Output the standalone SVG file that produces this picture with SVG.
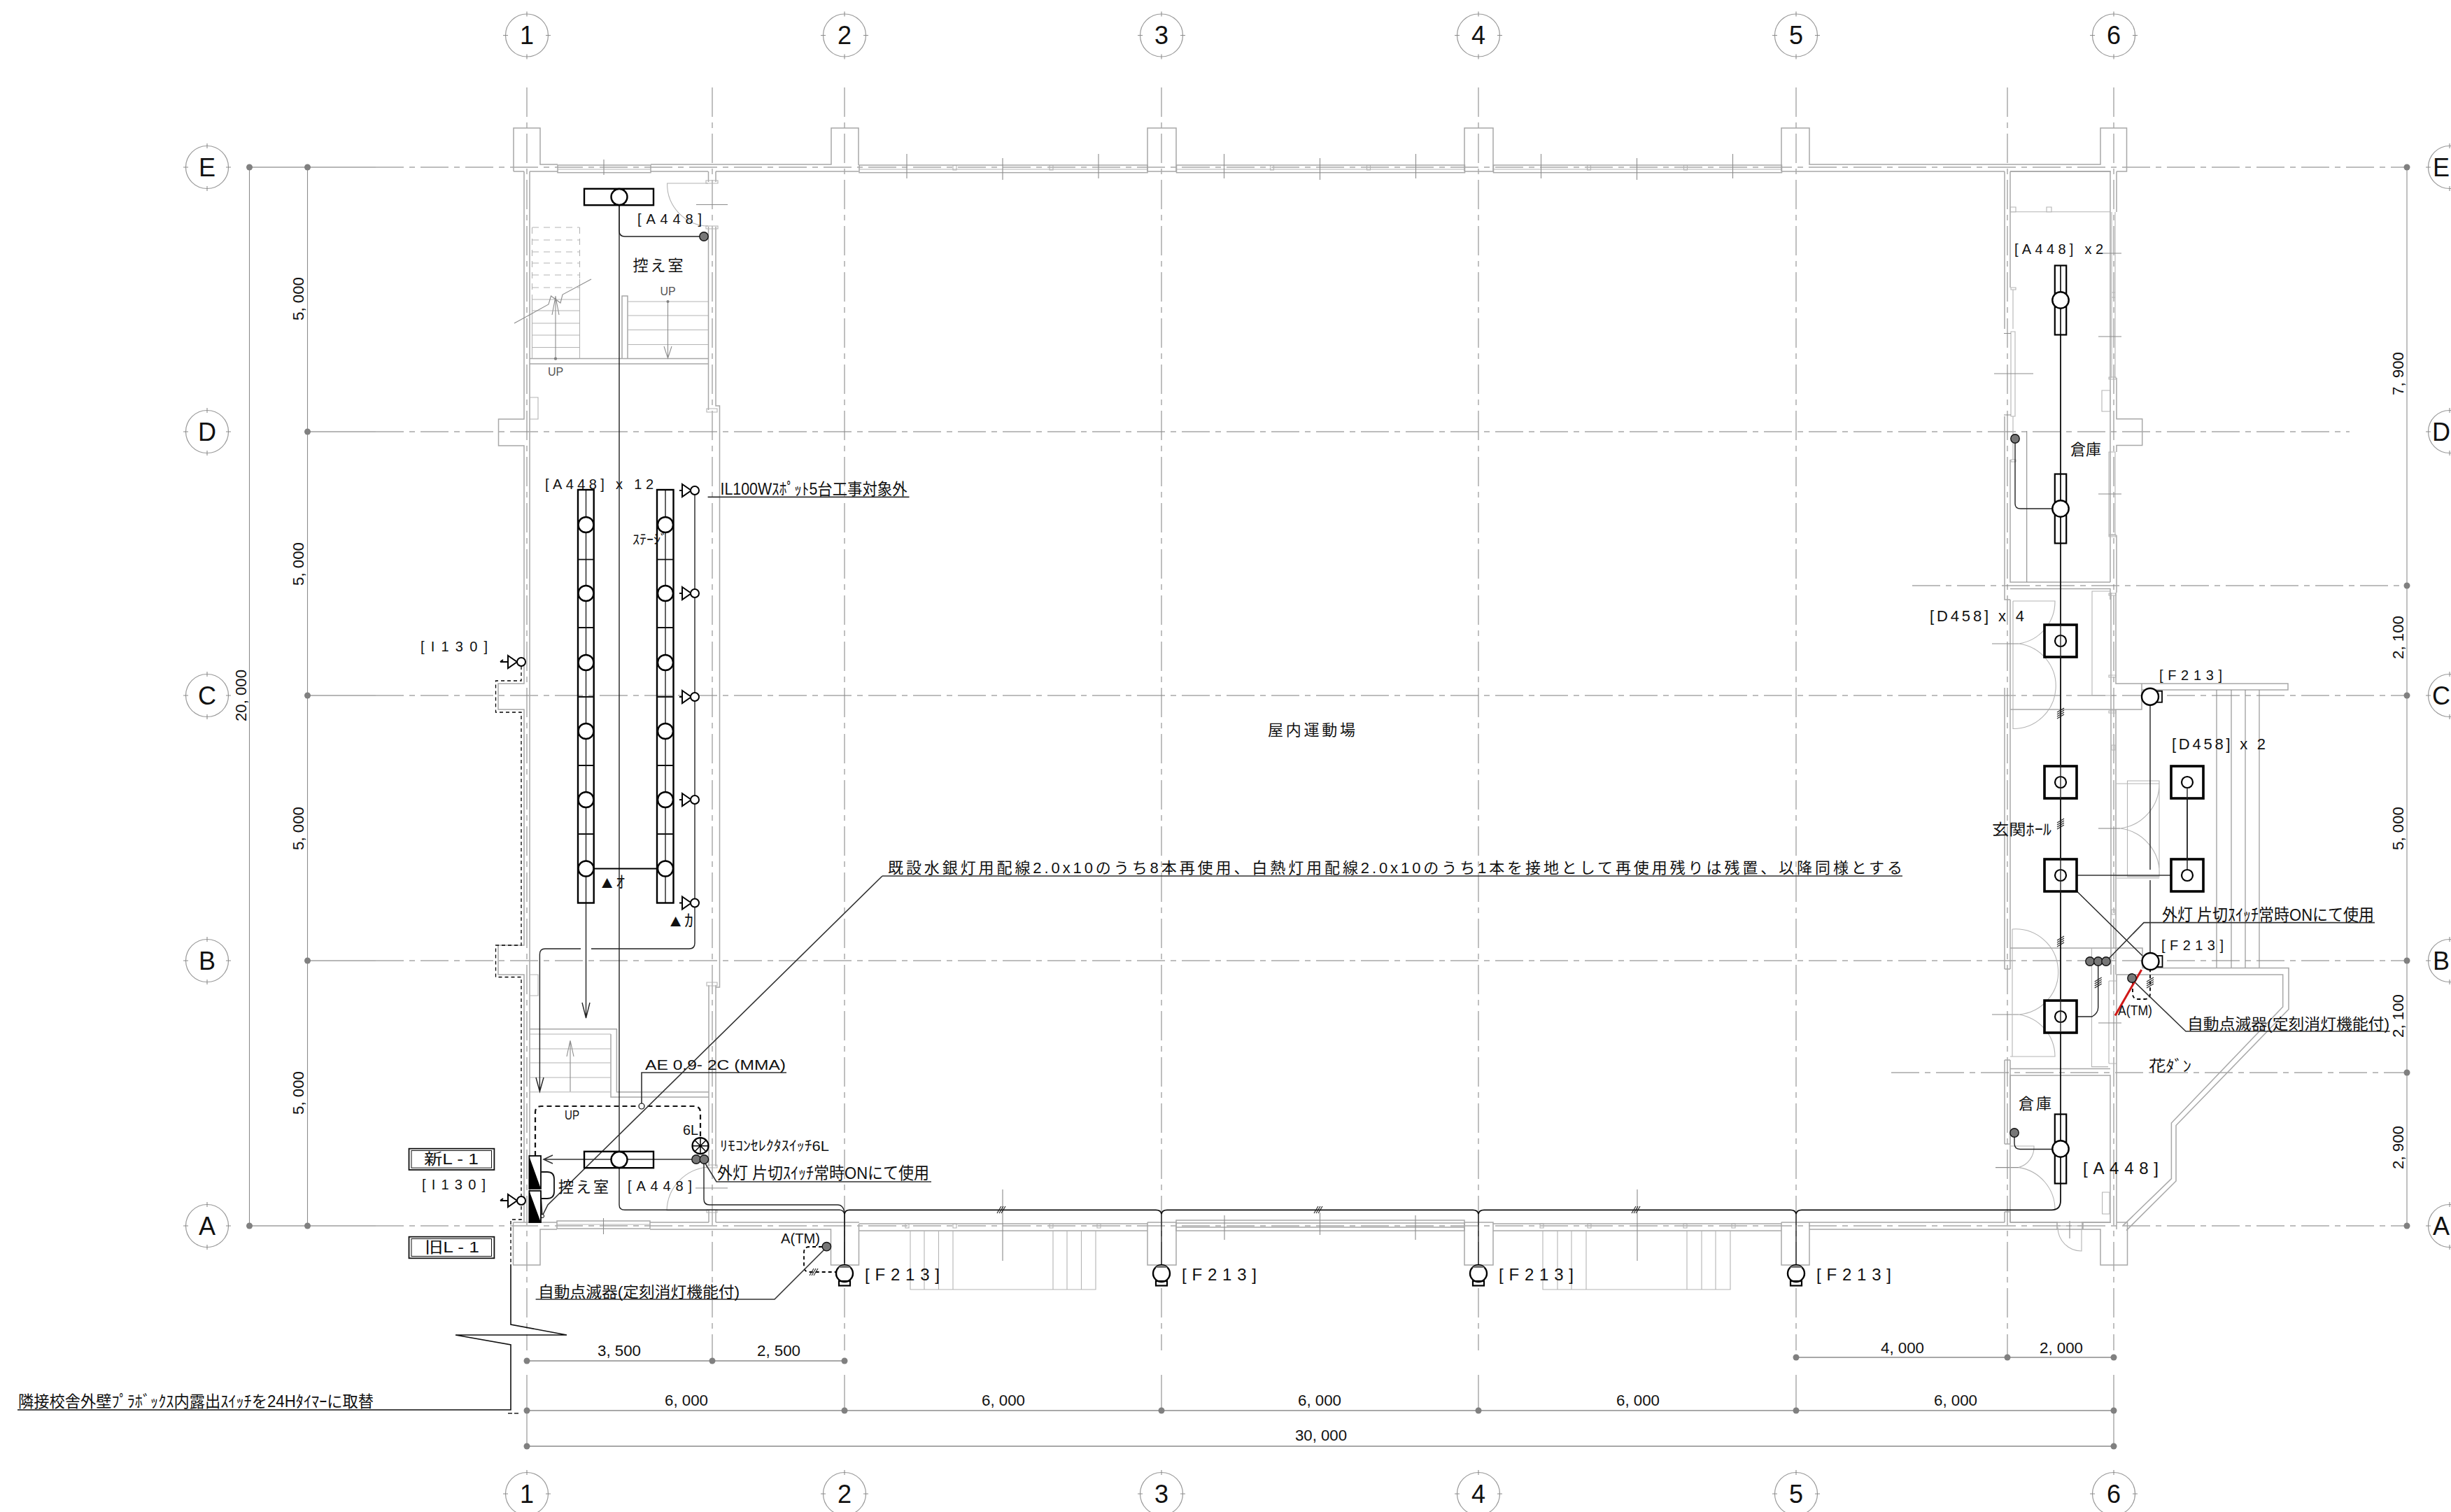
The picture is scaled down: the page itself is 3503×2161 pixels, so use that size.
<svg xmlns="http://www.w3.org/2000/svg" width="3503" height="2161" viewBox="0 0 3503 2161">
<style>
text{font-family:"Liberation Sans","Noto Sans CJK JP",sans-serif;fill:#111}
.w{fill:none;stroke:#a8a8a8;stroke-width:1.5}
.wt{fill:none;stroke:#b4b4b4;stroke-width:1.1}
.wd{fill:none;stroke:#b4b4b4;stroke-width:1.1;stroke-dasharray:9 7}
.g{fill:none;stroke:#a8a8a8;stroke-width:1.5;stroke-dasharray:40 8 8 8}
.gv{fill:none;stroke:#8c8c8c;stroke-width:1.1;stroke-dasharray:42 8 8 8}
.s{fill:none;stroke:#8c8c8c;stroke-width:1.1}
.d{fill:none;stroke:#a8a8a8;stroke-width:2.2}
.dl{fill:none;stroke:#a0a0a0;stroke-width:1.7}
.dot{fill:#808080}
.k{fill:none;stroke:#222;stroke-width:1.4}
.km{fill:none;stroke:#111;stroke-width:1.8}
.k2{fill:none;stroke:#000;stroke-width:2}
.lead{fill:none;stroke:#333;stroke-width:1.6}
.dash{fill:none;stroke:#000;stroke-width:1.3;stroke-dasharray:5 4}
.dashm{fill:none;stroke:#000;stroke-width:1.8;stroke-dasharray:5 4}
.dash2{fill:none;stroke:#111;stroke-width:2.2;stroke-dasharray:7 5}
.bub{fill:#fff;stroke:#999;stroke-width:1.2}
.num{font-size:36px;text-anchor:middle}
.dim{font-size:22px;text-anchor:middle}
.lbl{font-size:20px}
.jp{font-size:22px}
.up{font-size:16px;text-anchor:middle;fill:#555}
</style>
<defs>
<g id="bubble"><circle class="bub" r="30.5"/><path class="s" d="M-34,0H-27M27,0H34M0,-34V-27M0,27V34"/></g>
<g id="winT"><rect class="w" x="0" y="236" width="412" height="10.7"/><path class="wt" d="M0,242H412"/><path class="wt" d="M134,236.5h5v6.5h-5zM272,236.5h5v6.5h-5z"/><path class="s" d="M68,220V255M205,226V257M342,220V255"/></g>
<g id="f213"><path class="k" d="M0,-85V-12"/><ellipse cx="0" cy="0" rx="12" ry="12" fill="#fff" stroke="#000" stroke-width="2.4"/><path d="M-9,-8A12,12 0 0 1 9,-8Z" fill="#777"/><rect x="-8" y="11" width="16" height="6.5" fill="none" stroke="#000" stroke-width="2.2"/></g>
<g id="f213r"><rect x="9" y="-8" width="8" height="16" fill="#fff" stroke="#000" stroke-width="1.8"/><circle r="12" fill="#fff" stroke="#000" stroke-width="2.4"/></g>
<g id="spot"><path class="k2" d="M-22,0H-2M-6,0L-3,4"/><path d="M-18,-9L-5,0L-18,9Z" fill="#fff" stroke="#000" stroke-width="2"/><circle r="6" fill="#fff" stroke="#000" stroke-width="2"/></g>
<g id="spotL"><path d="M-30,0H-19M-30,0L-26,-3" fill="none" stroke="#000" stroke-width="2"/><path d="M-19,-9L-6,0L-19,9Z" fill="#fff" stroke="#000" stroke-width="2"/><circle r="6" fill="#fff" stroke="#000" stroke-width="2"/></g>
<circle id="sw" r="6.2" fill="#777" stroke="#111" stroke-width="1.4"/>
<g id="hatch"><path fill="none" stroke="#222" stroke-width="1.1" d="M-8,5L-2,-5M-5,5L1,-5M-2,5L4,-5"/></g>
<g id="hatchV"><path fill="none" stroke="#222" stroke-width="1.1" d="M-5,-2L5,-8M-5,1L5,-5M-5,4L5,-2M-5,7L5,1"/></g>
<g id="sq"><rect x="-23" y="-23" width="46" height="46" fill="#fff" stroke="#000" stroke-width="3.6"/><circle r="8" fill="#fff" stroke="#000" stroke-width="2.2"/></g>
<g id="hz"><rect x="-50" y="-11.7" width="99" height="23.4" fill="none" stroke="#000" stroke-width="2.4"/></g>
<g id="vf"><rect x="-8.2" y="-49.5" width="16.4" height="99" fill="none" stroke="#000" stroke-width="2.2"/><circle r="11.7" fill="#fff" stroke="#000" stroke-width="2.4"/></g>
</defs>
<rect width="3503" height="2161" fill="#fff"/>

<g id="grid-lines">
<path class="s" d="M356.5,239V1752M439.5,239V1752"/>
<path class="dl" d="M356.5,239H537M356.5,1752H537M439.5,617H537M439.5,994H537M439.5,1373H537"/>
<path class="g" d="M537,239H3440M537,617H3358M537,994H3440M537,1373H3440M537,1752H3440M2733,837H3440M2703,1533H3440"/>
<path class="gv" d="M753,125V1930M1207,125V1930M1660,125V1930M2113,125V1930M2567,125V1930M3021,125V1930M1018,125V1945M2869,125V1940"/>
<path class="s" d="M753,1965V2067M1207,1965V2016M1660,1965V2016M2113,1965V2016M2567,1965V2016M3021,1965V2067"/>
<path class="s" d="M3440,239V1752"/>
</g>

<g id="dimensions">
<path class="d" d="M753,1945H1207M753,2016H3021M753,2067H3021M2567,1940H3021"/>
<g class="dot">
<circle cx="356.5" cy="239" r="4.5"/><circle cx="356.5" cy="1752" r="4.5"/>
<circle cx="439.5" cy="239" r="4.5"/><circle cx="439.5" cy="617" r="4.5"/><circle cx="439.5" cy="994" r="4.5"/><circle cx="439.5" cy="1373" r="4.5"/><circle cx="439.5" cy="1752" r="4.5"/>
<circle cx="3440" cy="239" r="4.5"/><circle cx="3440" cy="837" r="4.5"/><circle cx="3440" cy="994" r="4.5"/><circle cx="3440" cy="1373" r="4.5"/><circle cx="3440" cy="1533" r="4.5"/><circle cx="3440" cy="1752" r="4.5"/>
<circle cx="753" cy="1945" r="4.5"/><circle cx="1018" cy="1945" r="4.5"/><circle cx="1207" cy="1945" r="4.5"/>
<circle cx="753" cy="2016" r="4.5"/><circle cx="1207" cy="2016" r="4.5"/><circle cx="1660" cy="2016" r="4.5"/><circle cx="2113" cy="2016" r="4.5"/><circle cx="2567" cy="2016" r="4.5"/><circle cx="3021" cy="2016" r="4.5"/>
<circle cx="753" cy="2067" r="4.5"/><circle cx="3021" cy="2067" r="4.5"/>
<circle cx="2567" cy="1940" r="4.5"/><circle cx="2869" cy="1940" r="4.5"/><circle cx="3021" cy="1940" r="4.5"/>
</g>
<g class="dim">
<text x="885" y="1938" textLength="62" lengthAdjust="spacingAndGlyphs">3, 500</text>
<text x="1113" y="1938" textLength="62" lengthAdjust="spacingAndGlyphs">2, 500</text>
<text x="2719" y="1934" textLength="62" lengthAdjust="spacingAndGlyphs">4, 000</text>
<text x="2946" y="1934" textLength="62" lengthAdjust="spacingAndGlyphs">2, 000</text>
<text x="981" y="2009" textLength="62" lengthAdjust="spacingAndGlyphs">6, 000</text>
<text x="1434" y="2009" textLength="62" lengthAdjust="spacingAndGlyphs">6, 000</text>
<text x="1886" y="2009" textLength="62" lengthAdjust="spacingAndGlyphs">6, 000</text>
<text x="2341" y="2009" textLength="62" lengthAdjust="spacingAndGlyphs">6, 000</text>
<text x="2795" y="2009" textLength="62" lengthAdjust="spacingAndGlyphs">6, 000</text>
<text x="1888" y="2059" textLength="74" lengthAdjust="spacingAndGlyphs">30, 000</text>
<text transform="translate(352,994) rotate(-90)" textLength="74" lengthAdjust="spacingAndGlyphs">20, 000</text>
<text transform="translate(434,427) rotate(-90)" textLength="62" lengthAdjust="spacingAndGlyphs">5, 000</text>
<text transform="translate(434,806) rotate(-90)" textLength="62" lengthAdjust="spacingAndGlyphs">5, 000</text>
<text transform="translate(434,1184) rotate(-90)" textLength="62" lengthAdjust="spacingAndGlyphs">5, 000</text>
<text transform="translate(434,1562) rotate(-90)" textLength="62" lengthAdjust="spacingAndGlyphs">5, 000</text>
<text transform="translate(3435,534) rotate(-90)" textLength="62" lengthAdjust="spacingAndGlyphs">7, 900</text>
<text transform="translate(3435,911) rotate(-90)" textLength="62" lengthAdjust="spacingAndGlyphs">2, 100</text>
<text transform="translate(3435,1184) rotate(-90)" textLength="62" lengthAdjust="spacingAndGlyphs">5, 000</text>
<text transform="translate(3435,1452) rotate(-90)" textLength="62" lengthAdjust="spacingAndGlyphs">2, 100</text>
<text transform="translate(3435,1640) rotate(-90)" textLength="62" lengthAdjust="spacingAndGlyphs">2, 900</text>
</g>
</g>

<g id="bubbles">
<use href="#bubble" x="753" y="50.5"/><use href="#bubble" x="1207" y="50.5"/><use href="#bubble" x="1660" y="50.5"/><use href="#bubble" x="2113" y="50.5"/><use href="#bubble" x="2567" y="50.5"/><use href="#bubble" x="3021" y="50.5"/>
<use href="#bubble" x="753" y="2135"/><use href="#bubble" x="1207" y="2135"/><use href="#bubble" x="1660" y="2135"/><use href="#bubble" x="2113" y="2135"/><use href="#bubble" x="2567" y="2135"/><use href="#bubble" x="3021" y="2135"/>
<use href="#bubble" x="296" y="239"/><use href="#bubble" x="296" y="617"/><use href="#bubble" x="296" y="994"/><use href="#bubble" x="296" y="1373"/><use href="#bubble" x="296" y="1752"/>
<use href="#bubble" x="3501" y="239"/><use href="#bubble" x="3501" y="617"/><use href="#bubble" x="3501" y="994"/><use href="#bubble" x="3501" y="1373"/><use href="#bubble" x="3501" y="1752"/>
<g class="num">
<text x="753" y="63">1</text><text x="1207" y="63">2</text><text x="1660" y="63">3</text><text x="2113" y="63">4</text><text x="2567" y="63">5</text><text x="3021" y="63">6</text>
<text x="753" y="2148">1</text><text x="1207" y="2148">2</text><text x="1660" y="2148">3</text><text x="2113" y="2148">4</text><text x="2567" y="2148">5</text><text x="3021" y="2148">6</text>
<text x="296" y="252">E</text><text x="296" y="630">D</text><text x="296" y="1007">C</text><text x="296" y="1386">B</text><text x="296" y="1765">A</text>
<text x="3489" y="252">E</text><text x="3489" y="630">D</text><text x="3489" y="1007">C</text><text x="3489" y="1386">B</text><text x="3489" y="1765">A</text>
</g>
</g>

<g id="building">
<path class="w" d="M734,245V183H772V235H797M734,245H749M757,245H797"/>
<rect class="w" x="797" y="236" width="133" height="10.7"/><path class="wt" d="M797,242H930"/><path class="s" d="M863,228V250"/>
<path class="w" d="M930,235H1188V183H1227V236M930,245H1012M1023,245H1227"/>
<use href="#winT" transform="translate(1228,0)"/>
<path class="w" d="M1640,245V183H1681V245H1640"/>
<use href="#winT" transform="translate(1681.5,0)"/>
<path class="w" d="M2093,245V183H2134V245H2093"/>
<use href="#winT" transform="translate(2134.5,0)"/>
<path class="w" d="M2546,245V183H2586V235H3002V183H3039.5V245H3025M2546,245H2865M2873,245H3017"/>
<path class="w" d="M733.5,1747V1808H772V1757H796M733.5,1747H796"/>
<rect class="w" x="796" y="1745" width="133" height="11"/><path class="wt" d="M796,1750H929"/><path class="s" d="M862.5,1741V1764"/>
<path class="w" d="M929,1757H1187.5V1808H1227.5V1749M929,1747H1013M1023,1747H1228"/>
<path class="w" d="M1228,1749H1640M1228,1759H1640"/>
<path class="wt" d="M1294,1749h5v6h-5zM1362,1749h5v6h-5zM1500,1749h5v6h-5zM1568,1749h5v6h-5zM2201,1749h5v6h-5zM2269,1749h5v6h-5zM2406,1749h5v6h-5zM2475,1749h5v6h-5z"/>
<path class="w" d="M1640,1747V1808H1681V1747H1640"/>
<path class="w" d="M1681,1744H2093V1759H1681ZM1681,1748H2093M1681,1754H2093"/>
<path class="s" d="M1750,1737V1772M1886.5,1733V1765M2023,1737V1772"/>
<path class="w" d="M2093,1747V1808H2134V1747H2093"/>
<path class="w" d="M2134,1749H2546M2134,1759H2546"/>
<path class="w" d="M2546,1747V1808H2586V1757H2940M2546,1747H2865M2873,1747H2940M2586,1747V1757"/>
<path class="s" d="M1433,1700V1802M2340,1700V1802"/>
<path class="wt" d="M1301,1759V1843H1566V1759M1321,1759V1843M1341.5,1759V1843M1362,1759V1843M1505,1759V1843M1525,1759V1843M1545.5,1759V1843"/>
<path class="wt" d="M2205,1759V1843H2473V1759M2226,1759V1843M2246,1759V1843M2267,1759V1843M2411,1759V1843M2432,1759V1843M2452,1759V1843"/>
<path class="w" d="M2977,1747V1757H3002V1808H3040.5V1747H3025M2977,1747H3017"/>
<path class="w" d="M2940,1746V1757H2976V1746"/><path class="wt" d="M2940,1752H2976M2975,1757V1788A34,34 0 0 1 2941,1754"/><path class="s" d="M2958,1745V1770"/>

<path class="w" d="M749,245V599H712.5V637H749V977H712V1014H749V1351H712V1393H749V1747M757,245V1747"/>
<path class="dash" d="M745,952V973H708.5V1018H745V1351H708.5V1396.5H745V1743H730V1807"/>
<path class="wt" d="M757,568H769V599H757M757,1393H769V1423H757"/>
<path class="w" d="M1012.5,245V260M1023,245V260M1012.5,324V586M1023,324V580H1028.5V1411H1023M1013,1408V1667M1023,1408V1667M1013,1730V1747M1023,1730V1747"/>
<path class="wt" d="M1009,258h17v4h-17zM1009,323h17v4h-17zM1010,584h15v5h-15zM1010,1404h15v5h-15zM1010,1665h15v4h-15zM1010,1729h15v4h-15z"/>
<path class="wt" d="M1012,262H953.6A60,60 0 0 0 1012,323"/><path class="s" d="M995,292.5H1040"/>
<path class="w" d="M757,512.6H1012.5M757,520H1012.5M889,512.6V423H897V512.6"/>
<path class="wt" d="M897,431H1012M897,451H1012M897,471.5H1012M897,492.5H1012"/>
<path class="s" d="M954.5,431V512.6M949,495L954.5,512L960,495"/><circle class="dot" cx="954.5" cy="431" r="2"/>
<path class="wt" d="M760.5,428V512.6M828.5,399V512.6M761,428H828M761,444H828M761,462H828M761,479H828M761,496.5H828"/>
<path class="wd" d="M760.5,325V428M828.5,325V399M761,325H828M761,343H828M761,360H828M761,376H828M761,393H828M761,411H828"/>
<path class="s" d="M735,462L784,435L787.5,423L801,433L804,421L845,399"/>
<path class="s" d="M794,512.6V423M789,450L794,424L799,450"/><circle class="dot" cx="794" cy="512.6" r="2.2"/>
<path class="w" d="M757,1470.7H881.4V1560.7H1013M873,1478V1568H1013"/>
<path class="wt" d="M757,1478H873M757,1499H873M757,1519H873M757,1540H873M757,1560.7H873"/>
<path class="s" d="M815,1560V1487M810,1510L815,1487L820,1510"/>
<path class="wt" d="M1012,1668A64,64 0 0 0 953,1730H1012"/><path class="s" d="M994,1698H1040"/>
<path class="w" d="M2865,245V470M2865,595V857H2873M2873,245V411M2873,657V832H3016M2873,841.5H3016V857M3016,245V832M2873,245H3016"/>
<path class="w" d="M3025,245V303M3025,540V598.7H3061.7V636.6H3025V646M3025,765V847"/>
<path class="wt" d="M2873,302.7H3016M2873,296h8v7h-8zM2925,296h7v7h-7zM3018,303V540M3023,303V540M3018,418h5v7h-5zM3014,646H3023V765H3014ZM3014,539h10v3h-10zM3014,764h10v3h-10zM3004,558H3016V588H3004Z"/>
<path class="wt" d="M2874,411h7v3h-7zM2874,657h7v3h-7zM2877,414V470M2874,474h6V595h-6zM2877,595V657"/>
<path class="s" d="M2999,362H3032M2999,481H3032M2999,706H3032M2850,534H2906M2864,476.5H2874M2864,593H2874M2896.7,616V832"/>
<path class="w" d="M2865,983V1385M2873,983V857M2873,983V1385M2865,1515V1635M2873,1515V1635M2865,1732V1747M2873,1732V1747M2865,1515H2873M2865,1385H2873M2865,1635H2873M2865,1732H2873"/>
<path class="wt" d="M2877,859H2937A61,61 0 0 1 2885,920A61,61 0 0 1 2877,1041.5V859"/><path class="s" d="M2847,920H2885"/>
<path class="wt" d="M2876,1328A61,61 0 0 1 2885,1450A61,61 0 0 1 2937,1510H2873"/><path class="s" d="M2847,1450H2885"/><path class="wt" d="M2876,1328V1510"/>
<path class="wt" d="M2873,1638H2907A30,30 0 0 1 2885,1668.6A61,61 0 0 1 2937,1730"/><path class="s" d="M2852,1668.6H2885"/>
<path class="w" d="M3017,847V1393M3024,847V977H3270V986H3061V1014H2873M3061,977V986M3024,1014V1393"/>
<path class="wt" d="M2990,994V845H3016M2990,994H3020M3014,848h10v3h-10zM3014,965h10v3h-10zM3014,1016h10v3h-10zM3018,1065h5v7h-5zM3018,1300h5v7h-5z"/>
<path class="wt" d="M3040.5,1116H3086V1253H3040.5ZM3025,1120H3086A64,64 0 0 1 3030,1184A64,64 0 0 1 3086,1252H3025M3025,1255H3086"/><path class="s" d="M2999,1184H3030"/>
<path class="s" d="M3168,986V1383.5M3189,986V1383.5M3209,986V1383.5M3229,986V1383.5"/>
<path class="w" d="M2873,1355H3062V1383.5H3271V1442.5L3110,1608.6V1688L3039,1758.6M3025,1393H3262.7V1439L3103.4,1605V1684.6L3034.5,1751.4M3271,1383.5V1393"/>
<path class="wt" d="M2989.5,1355V1524.6H3013M3014,1402V1520M3014,1402H3025M3014,1520H3025"/><path class="s" d="M2999,1462H3032"/>
<path class="w" d="M2873,1527.5H3016M2873,1537H3016V1747H2873ZM3025,1393V1757"/>
<path class="wt" d="M3004.6,1704H3015V1735H3004.6Z"/>
</g>

<g id="connectors">
<path class="k" d="M885,293V330Q885,338 893,338H1000"/>
<path class="k" d="M885,293V1645M885,1669V1722Q885,1729.3 893,1729.3H1200Q1205,1729.3 1207,1735"/>
<path class="k" d="M1006,1663V1714Q1006,1722 1014,1722H1197Q1206,1722 1207,1735V1805"/>
<path class="km" d="M1207,1735Q1208,1729.3 1214,1729.3H1652Q1659,1729.3 1660,1735Q1661,1729.3 1668,1729.3H2105Q2112,1729.3 2113,1735Q2114,1729.3 2121,1729.3H2559Q2566,1729.3 2567,1735Q2568,1729.3 2575,1729.3H2932Q2945,1729.3 2945,1716V478"/>
<path class="k" d="M2945,478V379M2945,679V777"/>
<path class="k" d="M837.5,700V1455M832,1433L837.5,1455L843,1433"/>
<path class="k" d="M951,700V1290"/>
<path class="k" d="M993,701V1348Q993,1356 985,1356H845M830,1356H779Q771.4,1356 771.4,1364V1560M766,1540L771.4,1560L777,1540"/>
<path class="k2" d="M849,1241.5H940"/>
<path class="lead" d="M777,1657H995M790,1651L777,1657L790,1663"/>
<path class="dash2" d="M765,1652V1590Q765,1581 774,1581H992Q1001,1581 1001,1590V1626"/>
<path class="lead" d="M917,1577V1533H1124"/><circle cx="917" cy="1581" r="4" fill="#fff" stroke="#000" stroke-width="1.2"/>
<path class="k" d="M2880,633V720Q2880,727 2888,727H2934"/>
<path class="k" d="M2879,1625V1634Q2879,1642.5 2887,1642.5H2934"/>
<path class="k" d="M2998.7,1380V1440Q2998.7,1448 2990,1453H2950"/>
<path class="lead" d="M2950,1251H3120"/>
<path class="k" d="M3126,1118V1251"/>
<path class="k" d="M3073,1000V1243M3073,1258V1362"/>
<path class="k" d="M2945,1251L3062,1366"/>
<path class="dashm" d="M1175,1782H1157Q1149,1782 1149,1790V1810Q1149,1818 1157,1818H1195"/>
<path class="dashm" d="M3048,1404V1420Q3048,1428 3056,1428H3065Q3073,1428 3073,1420V1386"/>
<path class="lead" d="M1181,1783L1107,1857H765.6"/>
<path class="lead" d="M1261,1252H2719M1261,1252L783,1722L775,1738L773,1708"/>
<circle cx="775" cy="1738" r="2.6" fill="#fff" stroke="#000"/>
<path class="lead" d="M1008,1663L1024,1689H1331"/>
<path class="lead" d="M1011.6,710.4H1299.5"/>
<path class="lead" d="M3010,1374L3064,1318.6H3394"/>
<path class="lead" d="M3047,1400L3124,1474H3415.6"/>
<path d="M3060.7,1386L3023,1451.4" fill="none" stroke="#d01818" stroke-width="3"/>
<path fill="none" stroke="#111" stroke-width="1.6" d="M730,1807V1893L810,1908H651L730,1922V2015H25"/>
<path class="k" d="M726,2020h6M735,2020h6"/>
<use href="#hatch" x="1433" y="1729"/><use href="#hatch" x="1886" y="1729"/><use href="#hatch" x="2340" y="1729"/>
<use href="#hatch" x="1165" y="1818"/>
<use href="#hatchV" x="2945" y="1020"/><use href="#hatchV" x="2945" y="1178"/><use href="#hatchV" x="2945" y="1346"/><use href="#hatchV" x="2998.7" y="1405"/><use href="#hatchV" x="3073" y="1405"/>
</g>

<g id="fixture-hall-upper"><use href="#hz" x="885" y="281.5"/><circle cx="885" cy="281.5" r="11.5" fill="#fff" stroke="#000" stroke-width="2.4"/><use href="#sw" x="1006" y="338"/></g>

<g id="fixture-stage">
<rect x="826" y="700" width="22.7" height="590.5" fill="none" stroke="#000" stroke-width="2.4"/>
<rect x="939" y="700" width="23.5" height="590.5" fill="none" stroke="#000" stroke-width="2.4"/>
<path class="km" d="M826,799.6H848.7M826,897H848.7M826,996H848.7M826,1094H848.7M826,1192H848.7M939,799.6H962.5M939,897H962.5M939,996H962.5M939,1094H962.5M939,1192H962.5"/>
<g fill="#fff" stroke="#000" stroke-width="2.4">
<circle cx="837.5" cy="750" r="11"/><circle cx="837.5" cy="848" r="11"/><circle cx="837.5" cy="947" r="11"/><circle cx="837.5" cy="1045" r="11"/><circle cx="837.5" cy="1143" r="11"/><circle cx="837.5" cy="1241.5" r="11"/>
<circle cx="951" cy="750" r="11"/><circle cx="951" cy="848" r="11"/><circle cx="951" cy="947" r="11"/><circle cx="951" cy="1045" r="11"/><circle cx="951" cy="1143" r="11"/><circle cx="951" cy="1241.5" r="11"/>
</g>
<use href="#spot" x="993" y="701"/><use href="#spot" x="993" y="848"/><use href="#spot" x="993" y="996"/><use href="#spot" x="993" y="1143"/><use href="#spot" x="993" y="1290.5"/>
<use href="#spotL" x="745" y="946"/><use href="#spotL" x="745" y="1716"/>
</g>

<g id="fixture-lower-left">
<use href="#hz" x="885" y="1657.5"/><circle cx="885" cy="1657.5" r="11.5" fill="#fff" stroke="#000" stroke-width="2.4"/>
<circle cx="1001" cy="1637.7" r="11.5" fill="#fff" stroke="#000" stroke-width="2.2"/><path fill="none" stroke="#000" stroke-width="1.5" d="M989.5,1637.7H1012.5M1001,1626.2V1649.2M993,1629.7L1009,1645.7M1009,1629.7L993,1645.7"/>
<use href="#sw" x="995" y="1657"/><use href="#sw" x="1006.4" y="1657"/>
</g>

<g id="panel-boards">
<rect x="756.4" y="1652" width="16.6" height="47" fill="#fff" stroke="#000" stroke-width="1.8"/>
<rect x="756.4" y="1702" width="16.6" height="45" fill="#fff" stroke="#000" stroke-width="1.8"/>
<path d="M756.4,1653L773,1699H756.4ZM756.4,1702L773,1747H756.4Z" fill="#000"/>
<path fill="none" stroke="#111" stroke-width="1.8" d="M773,1675H782Q792,1675 792,1685V1703Q792,1713 782,1713H773"/>
<g id="label-new"><rect x="584.5" y="1641.7" width="121.9" height="30.3" fill="#fff" stroke="#111" stroke-width="1.8"/><rect x="588" y="1644.5" width="114.5" height="24.7" fill="none" stroke="#111" stroke-width="1"/></g>
<g id="label-old"><rect x="584.5" y="1767.7" width="121.9" height="30.6" fill="#fff" stroke="#111" stroke-width="1.8"/><rect x="588" y="1770.5" width="114.5" height="25" fill="none" stroke="#111" stroke-width="1"/></g>
</g>

<g id="fixtures-f213">
<use href="#f213" x="1207" y="1820"/><use href="#f213" x="1660" y="1820"/><use href="#f213" x="2113" y="1820"/><use href="#f213" x="2567" y="1820"/>
<use href="#sw" x="1181.4" y="1781.7"/>
<use href="#f213r" x="3073" y="995.7"/><use href="#f213r" x="3073.5" y="1374"/>
<use href="#sw" x="3047" y="1398"/>
</g>

<g id="fixtures-right">
<path class="k" d="M2945,379V1474"/>
<use href="#vf" x="2945" y="429"/><use href="#vf" x="2945" y="727"/><use href="#vf" x="2945" y="1642"/>
<use href="#sq" x="2945" y="916"/><use href="#sq" x="2945" y="1118"/><use href="#sq" x="2945" y="1251"/><use href="#sq" x="2945" y="1453"/><use href="#sq" x="3126" y="1118"/><use href="#sq" x="3126" y="1251"/>
<path class="k" d="M2945,893V1474M3126,1126V1243"/>
<use href="#sw" x="2880" y="627"/><use href="#sw" x="2879" y="1619"/>
<use href="#sw" x="2987" y="1374"/><use href="#sw" x="2998.7" y="1374"/><use href="#sw" x="3010" y="1374"/>
</g>

<g id="labels">
<g class="lbl">
<text x="911" y="320" textLength="92">[A448]</text>
<text x="779" y="699" textLength="155">[A448]  x 12</text>
<text x="603" y="1700" textLength="91">[I130]</text>
<text x="601" y="931" textLength="96">[I130]</text>
<text x="897" y="1702" textLength="92">[A448]</text>
<text x="2879" y="363" textLength="127">[A448] x2</text>
<text x="2758" y="888" textLength="135" font-size="22">[D458]  x 4</text>
<text x="3104" y="1071" textLength="134" font-size="22">[D458]  x 2</text>
<text x="3086" y="972" textLength="90">[F213]</text>
<text x="3089" y="1358" textLength="89">[F213]</text>
<text x="2977" y="1678" textLength="108" font-size="24">[A448]</text>
<text x="1236" y="1830" textLength="107" font-size="24">[F213]</text>
<text x="1689" y="1830" textLength="107" font-size="24">[F213]</text>
<text x="2142" y="1830" textLength="107" font-size="24">[F213]</text>
<text x="2596" y="1830" textLength="107" font-size="24">[F213]</text>
</g>
<g class="jp">
<text x="904.5" y="387" textLength="72">控え室</text>
<text x="798" y="1704" textLength="72">控え室</text>
<text x="1812" y="1051" textLength="125">屋内運動場</text>
<text x="2959" y="650" textLength="44">倉庫</text>
<text x="2885" y="1585" textLength="47">倉庫</text>
<text x="2847" y="1193" textLength="85" lengthAdjust="spacingAndGlyphs">玄関ﾎｰﾙ</text>
<text x="904" y="778" textLength="50" lengthAdjust="spacingAndGlyphs" font-size="19">ｽﾃｰｼﾞ</text>
<text x="3071" y="1531" textLength="61" lengthAdjust="spacingAndGlyphs">花ﾀﾞﾝ</text>
<text x="1029.5" y="707" textLength="267" lengthAdjust="spacingAndGlyphs" font-size="23">IL100Wｽﾎﾟｯﾄ5台工事対象外</text>
<text x="1269" y="1248" textLength="1450" font-size="22">既設水銀灯用配線2.0x10のうち8本再使用、白熱灯用配線2.0x10のうち1本を接地として再使用残りは残置、以降同様とする</text>
<text x="922" y="1529" textLength="201" lengthAdjust="spacingAndGlyphs" font-size="21">AE    0.9- 2C (MMA)</text>
<text x="976" y="1622" textLength="22" lengthAdjust="spacingAndGlyphs" font-size="21">6L</text>
<text x="807" y="1600" textLength="21" lengthAdjust="spacingAndGlyphs" font-size="18">UP</text>
<text x="1029" y="1645" textLength="156" lengthAdjust="spacingAndGlyphs" font-size="20">ﾘﾓｺﾝｾﾚｸﾀｽｲｯﾁ6L</text>
<text x="1025" y="1685" textLength="303" lengthAdjust="spacingAndGlyphs" font-size="24">外灯  片切ｽｲｯﾁ常時ONにて使用</text>
<text x="3090" y="1316" textLength="303" lengthAdjust="spacingAndGlyphs" font-size="24">外灯  片切ｽｲｯﾁ常時ONにて使用</text>
<text x="769" y="1854" textLength="288" lengthAdjust="spacingAndGlyphs">自動点滅器(定刻消灯機能付)</text>
<text x="3126" y="1471" textLength="289" lengthAdjust="spacingAndGlyphs">自動点滅器(定刻消灯機能付)</text>
<text x="1116" y="1777" textLength="56" lengthAdjust="spacingAndGlyphs" font-size="21">A(TM)</text>
<text x="3027" y="1451" textLength="49" lengthAdjust="spacingAndGlyphs" font-size="21">A(TM)</text>
<text x="26" y="2011" textLength="508" lengthAdjust="spacingAndGlyphs" font-size="23">隣接校舎外壁ﾌﾟﾗﾎﾞｯｸｽ内露出ｽｲｯﾁを24Hﾀｲﾏｰに取替</text>
<text x="606" y="1664" textLength="78" lengthAdjust="spacingAndGlyphs">新L - 1</text>
<text x="607" y="1790" textLength="78" lengthAdjust="spacingAndGlyphs">旧L - 1</text>
<text x="855" y="1269" textLength="38" lengthAdjust="spacingAndGlyphs" font-size="24">▲ｵ</text>
<text x="953" y="1324" textLength="38" lengthAdjust="spacingAndGlyphs" font-size="24">▲ｶ</text>
</g>
<text class="up" x="954.5" y="422">UP</text>
<text class="up" x="794" y="537">UP</text>
</g>
</svg>
